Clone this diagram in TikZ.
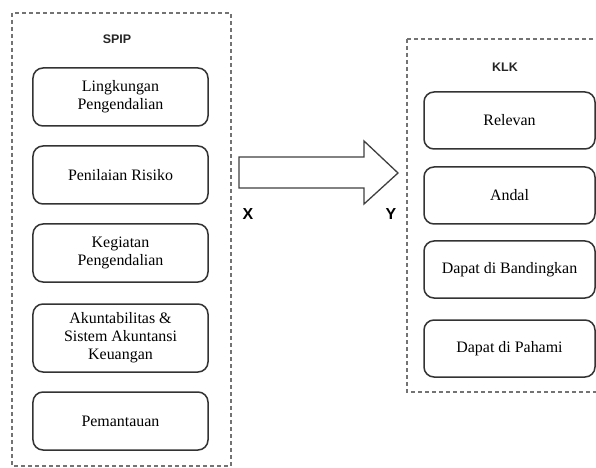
\documentclass[tikz,border=0pt]{standalone}
\usepackage{fontspec}
\setmainfont{Liberation Serif}
\newfontfamily\lblfont{Liberation Sans}
\begin{document}
\begin{tikzpicture}[x=1bp,y=-1bp,
  group/.style={draw=black!55, dashed, dash pattern=on 4bp off 3bp, line width=1.1bp},
  item/.style={draw=black!80, line width=1.5bp, rounded corners=10bp, align=center,
    font=\fontsize{16}{18}\selectfont, inner sep=0pt},
  ttl/.style={font=\lblfont\fontsize{12.5}{14}\selectfont\bfseries, text=black!85},
  var/.style={font=\lblfont\fontsize{16}{18}\selectfont\bfseries}]
\clip (0,0) rectangle (596,468);
\fill[white] (0,0) rectangle (596,468);
% groups
\draw[group] (12,13) rectangle (231,466);
\draw[group] (407,39) rectangle (602,392);
\node[ttl] (spip) at (117,39) {SPIP};
\node[ttl] (klk) at (505,67) {KLK};
% left items
\node[item, minimum width=175bp, minimum height=58bp] (l1) at (120.5,97) {Lingkungan\\Pengendalian};
\node[item, minimum width=175bp, minimum height=58bp] (l2) at (120.5,175) {Penilaian Risiko};
\node[item, minimum width=175bp, minimum height=58bp] (l3) at (120.5,253) {Kegiatan\\Pengendalian};
\node[item, minimum width=175bp, minimum height=68bp] (l4) at (120.5,338) {Akuntabilitas \&\\Sistem Akuntansi\\Keuangan};
\node[item, minimum width=175bp, minimum height=58bp] (l5) at (120.5,421) {Pemantauan};
% right items
\node[item, minimum width=171bp, minimum height=57bp] (r1) at (509.5,120.5) {Relevan};
\node[item, minimum width=171bp, minimum height=57bp] (r2) at (509.5,195.5) {Andal};
\node[item, minimum width=171bp, minimum height=57bp] (r3) at (509.5,269.5) {Dapat di Bandingkan};
\node[item, minimum width=171bp, minimum height=57bp] (r4) at (509.5,348.5) {Dapat di Pahami};
% big arrow
\draw[draw=black!75, line width=1.3bp, fill=white]
  (239,157) -- (364,157) -- (364,141) -- (398,173) -- (364,204) -- (364,188) -- (239,188) -- cycle;
\node[var] (x) at (248,214) {X};
\node[var] (y) at (391,214) {Y};
\end{tikzpicture}
\end{document}
